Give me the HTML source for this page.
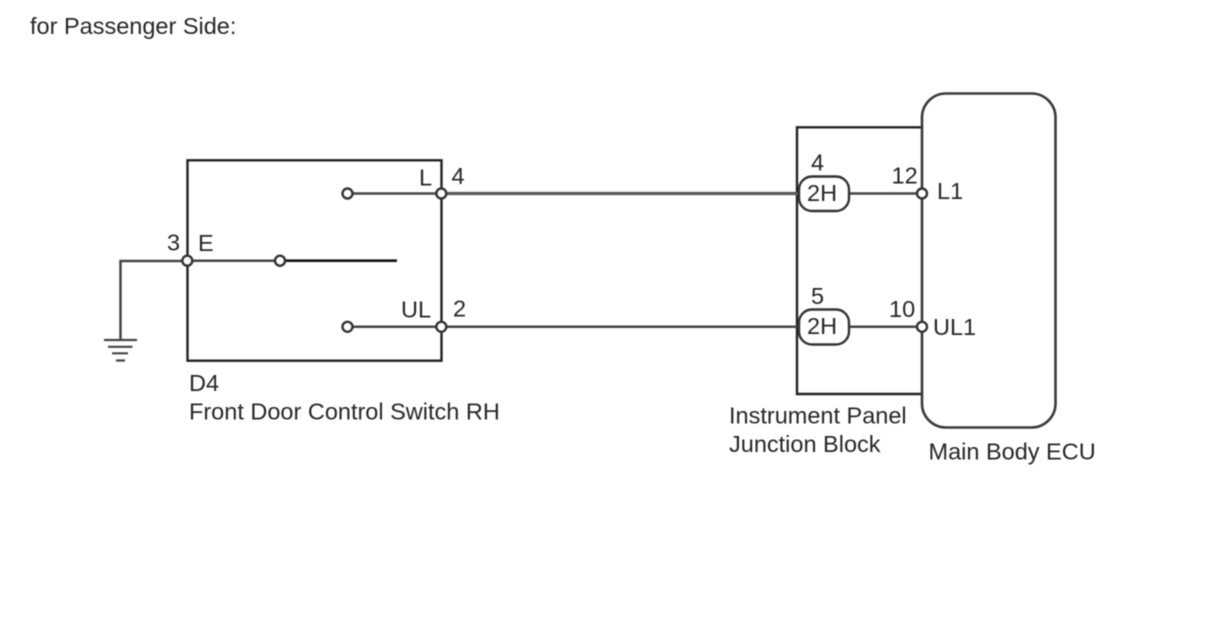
<!DOCTYPE html>
<html><head><meta charset="utf-8"><style>
html,body{margin:0;padding:0;background:#fff;width:1208px;height:644px;overflow:hidden}
svg{display:block;filter:blur(.5px)}
text{font-family:"Liberation Sans",sans-serif;font-size:23.5px;fill:#262626}
</style></head><body>
<svg width="1208" height="644" viewBox="0 0 1208 644" xmlns="http://www.w3.org/2000/svg">
<rect width="1208" height="644" fill="#fff"/>
<g fill="none" stroke="#222" stroke-width="2.400">
<rect x="187.500" y="160.300" width="254" height="200.400"/>
<path d="M922 127.300H797V394H922"/>
</g>
<rect x="922" y="93.500" width="133.500" height="334" rx="24" fill="#fff" stroke="#3a3a3a" stroke-width="2.600"/>
<g fill="none" stroke="#444" stroke-width="2.500">
<path d="M120.500 340V261H187"/>
<path d="M187 260.700H280"/>
<path d="M348 193.500H441M348 326.800H441"/>
<path d="M441 326.800H800M848 326.800H922M848 193.500H922"/>
<path d="M441 193.500H800" stroke-width="3.200" stroke="#5a5a5a"/>
<path d="M104 340H137M108 346.800H132.500M112 353.300H128M116 360.500H125" stroke-width="2.200"/>
</g>
<path d="M286 260.700H397" fill="none" stroke="#111" stroke-width="2.600"/>
<g fill="#fff" stroke="#333" stroke-width="2.400">
<rect x="799" y="176.500" width="50" height="34.500" rx="13"/>
<rect x="799" y="309.500" width="50" height="35" rx="13"/>
<circle cx="187.300" cy="260.700" r="5"/><circle cx="280" cy="260.700" r="5"/>
<circle cx="347.500" cy="193.500" r="5"/><circle cx="347.500" cy="326.800" r="5"/>
<circle cx="441.300" cy="193.500" r="5"/><circle cx="441.300" cy="326.800" r="5"/>
<circle cx="922" cy="193.500" r="5"/><circle cx="922" cy="326.800" r="5"/>
</g>
<text x="30" y="34">for Passenger Side:</text>
<text x="419" y="185.500">L</text><text x="451.500" y="184">4</text>
<text x="167" y="250.500">3</text><text x="198" y="251">E</text>
<text x="401" y="317.500">UL</text><text x="453" y="316.500">2</text>
<text x="189" y="391">D4</text>
<text x="189" y="419.500">Front Door Control Switch RH</text>
<text x="811" y="170.500">4</text><text x="891.500" y="183.500">12</text><text x="937" y="199">L1</text>
<text x="811" y="304">5</text><text x="889" y="317">10</text><text x="933" y="335">UL1</text>
<text x="807" y="201">2H</text><text x="807" y="334">2H</text>
<text x="729" y="423.500">Instrument Panel</text>
<text x="729" y="452">Junction Block</text>
<text x="928.500" y="459.500">Main Body ECU</text>
</svg>
</body></html>
